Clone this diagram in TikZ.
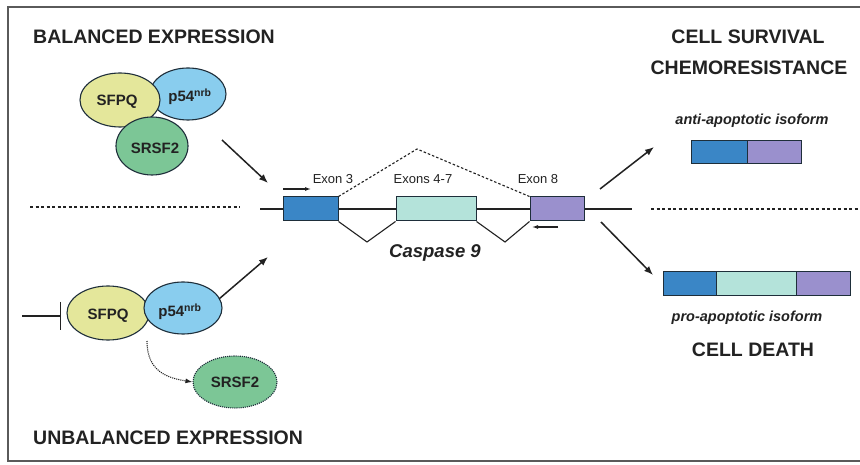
\documentclass[tikz,border=0pt]{standalone}
\usepackage{fontspec}
\setmainfont{Liberation Sans}
\usetikzlibrary{shapes.geometric,arrows.meta}
\definecolor{framec}{HTML}{5A5A5A}
\definecolor{sfpqc}{HTML}{E4E79B}
\definecolor{p54c}{HTML}{89CDEE}
\definecolor{srsfc}{HTML}{7CC696}
\definecolor{ex3c}{HTML}{3A86C6}
\definecolor{ex47c}{HTML}{B4E3DA}
\definecolor{ex8c}{HTML}{9A90CD}
\definecolor{outl}{HTML}{1E2E3A}
\definecolor{txtc}{HTML}{222222}
\begin{document}
\begin{tikzpicture}[x=1pt,y=-1pt,
  heading/.style={font=\fontsize{19.5}{22}\selectfont\bfseries, text=txtc, inner sep=0pt},
  prot/.style={ellipse, draw=outl, line width=1.1pt, inner sep=0pt, font=\fontsize{15}{17}\selectfont\bfseries, text=txtc},
  protlabel/.style={font=\fontsize{15}{17}\selectfont\bfseries, text=txtc},
  exonbox/.style={rectangle, draw=outl, line width=1pt, inner sep=0pt, minimum height=24pt},
  exlabel/.style={font=\fontsize{13}{15}\selectfont, text=txtc, inner sep=0pt},
  isolabel/.style={font=\fontsize{14.5}{16}\selectfont\bfseries\itshape, text=txtc, inner sep=0pt},
  bigarrow/.style={draw=txtc, line width=1.5pt, -{Latex[length=9pt,width=7pt]}},
  smallarrow/.style={draw=txtc, line width=1.1pt, -{Latex[length=6pt,width=4pt]}},
  divline/.style={draw=txtc, line width=1.2pt, dash pattern=on 3pt off 2.5pt},
  geneline/.style={draw=txtc, line width=1.2pt}
]
\useasboundingbox (0,0) rectangle (860,465);
\clip (0,0) rectangle (860,465);
\fill[white] (0,0) rectangle (860,465);
% frame
\draw[framec, line width=1.2pt] (880,7) -- (8,7) -- (8,461) -- (880,461);

% headings
\node[heading, anchor=west] (bal) at (33,37) {BALANCED EXPRESSION};
\node[heading, anchor=west] (unbal) at (33,438) {UNBALANCED EXPRESSION};
\node[heading] (surv) at (748,37) {CELL SURVIVAL};
\node[heading] (chemo) at (749,68) {CHEMORESISTANCE};
\node[heading] (death) at (753,350) {CELL DEATH};

% balanced complex
\node[prot, fill=p54c, minimum width=76pt, minimum height=52pt] (p54a) at (188,94) {};
\node[prot, fill=sfpqc, minimum width=80pt, minimum height=54pt] (sfpqa) at (120,100) {};
\node[prot, fill=srsfc, minimum width=72pt, minimum height=58pt] (srsfa) at (152,146) {};
\node[protlabel] (sfpqat) at (117,102) {SFPQ};
\node[protlabel] (p54at) at (190,97) {p54\textsuperscript{nrb}};
\node[protlabel] (srsfat) at (155,148) {SRSF2};

% unbalanced complex
\node[prot, fill=sfpqc, minimum width=82pt, minimum height=54pt] (sfpqb) at (108,313) {};
\node[prot, fill=p54c, minimum width=78pt, minimum height=52pt] (p54b) at (183,308) {};
\node[protlabel] (sfpqbt) at (108,316) {SFPQ};
\node[protlabel] (p54bt) at (180,312) {p54\textsuperscript{nrb}};
\node[prot, fill=srsfc, densely dotted, minimum width=84pt, minimum height=52pt] (srsfb) at (235,382) {SRSF2};

% inhibition
\coordinate (inhS) at (22,316);
\coordinate (inhE) at (61,316);
\draw[txtc, line width=1.3pt, -{Bar[width=28pt,line width=1.3pt]}] (inhS) -- (inhE);

% dotted arrow to free SRSF2
\coordinate (dotS) at (147,341);
\draw[txtc, line width=1.1pt, densely dotted, -{Latex[length=7pt,width=5pt]}] (dotS) .. controls (147,372) and (168,378) .. (srsfb.west);

% divider lines
\coordinate (dL1) at (30,207); \coordinate (dL2) at (240,207);
\coordinate (dR1) at (651,209); \coordinate (dR2) at (858,209);
\draw[divline] (dL1) -- (dL2);
\draw[divline] (dR1) -- (dR2);

% gene
\coordinate (geneL) at (260,209);
\coordinate (geneR) at (632,209);
\draw[geneline] (geneL) -- (geneR);
\node[exonbox, fill=ex3c, minimum width=55pt] (ex3) at (310.5,209) {};
\node[exonbox, fill=ex47c, minimum width=80pt] (ex47) at (436,209) {};
\node[exonbox, fill=ex8c, minimum width=54pt] (ex8) at (557,209) {};
\node[exlabel] (ex3l) at (333,179) {Exon 3};
\node[exlabel] (ex47l) at (423,179) {Exons 4-7};
\node[exlabel] (ex8l) at (538,179) {Exon 8};

% introns
\coordinate (v1) at (367,242);
\coordinate (v2) at (505,242);
\draw[geneline, line width=1.1pt] (ex3.south east) -- (v1) -- (ex47.south west);
\draw[geneline, line width=1.1pt] (ex47.south east) -- (v2) -- (ex8.south west);
% skip
\coordinate (peak) at (417,149);
\draw[txtc, line width=1.1pt, dash pattern=on 2.5pt off 2pt] (ex3.north east) -- (peak) -- (ex8.north west);

% primers
\coordinate (pf1) at (283,189); \coordinate (pf2) at (311,189);
\coordinate (pr1) at (558,227); \coordinate (pr2) at (532,227);
\draw[smallarrow] (pf1) -- (pf2);
\draw[smallarrow] (pr1) -- (pr2);

\node[font=\fontsize{18.5}{20}\selectfont\bfseries\itshape, text=txtc] (casp) at (435,253) {Caspase 9};

% input arrows
\coordinate (inTop) at (268,183);
\coordinate (inBot) at (268,257);
\coordinate (aTopS) at (222,140);
\coordinate (aBotS) at (219,299);
\draw[bigarrow] (aTopS) -- (inTop);
\draw[bigarrow] (aBotS) -- (inBot);

% output arrows
\coordinate (oS1) at (600,189); \coordinate (oE1) at (654,147);
\coordinate (oS2) at (601,222); \coordinate (oE2) at (653,275);
\draw[bigarrow] (oS1) -- (oE1);
\draw[bigarrow] (oS2) -- (oE2);

% anti-apoptotic isoform
\node[isolabel] (antil) at (752,121) {anti-apoptotic isoform};
\node[exonbox, fill=ex3c, minimum width=56pt, minimum height=23pt] (a3) at (719,152.5) {};
\node[exonbox, fill=ex8c, minimum width=54pt, minimum height=23pt] (a8) at (774,152.5) {};

% pro-apoptotic isoform
\node[exonbox, fill=ex3c, minimum width=53pt] (p3) at (689.5,284) {};
\node[exonbox, fill=ex47c, minimum width=80pt] (p47) at (756,284) {};
\node[exonbox, fill=ex8c, minimum width=54pt] (p8) at (823,284) {};
\node[isolabel] (prol) at (747,318) {pro-apoptotic isoform};
\end{tikzpicture}
\end{document}
